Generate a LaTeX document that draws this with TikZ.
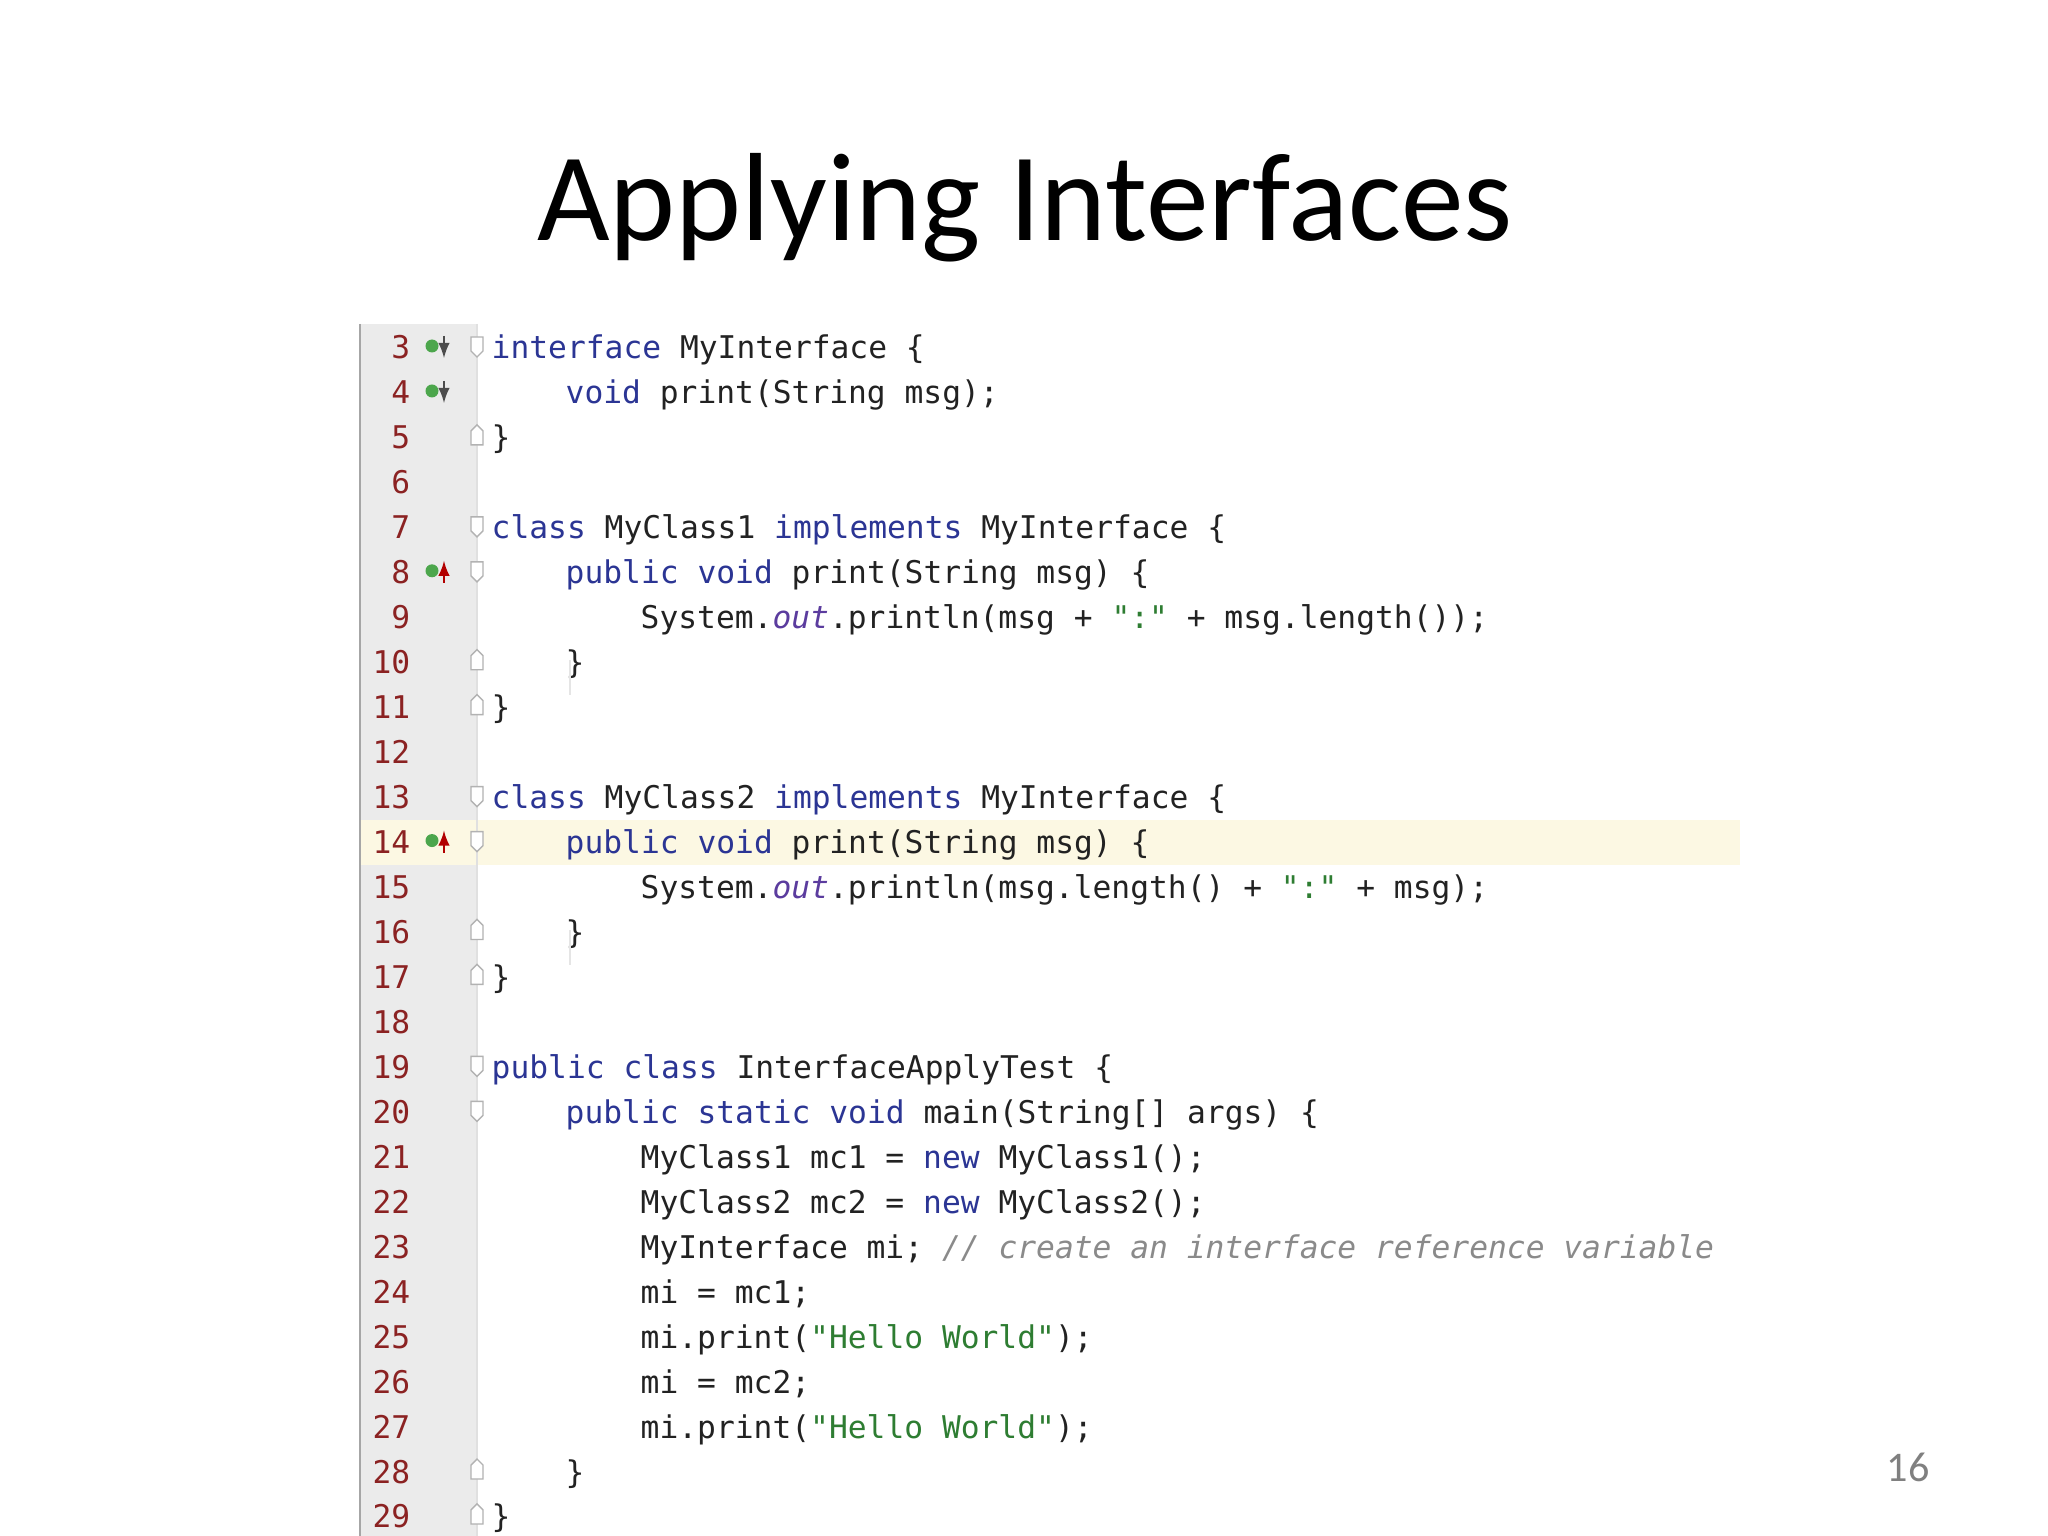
\documentclass[tikz,border=0pt]{standalone}
\usepackage{fontspec}
\setmainfont{Carlito}
\setmonofont{DejaVu Sans Mono}
\definecolor{kw}{HTML}{2B3594}
\definecolor{tx}{HTML}{222222}
\definecolor{fld}{HTML}{5B3C9E}
\definecolor{strc}{HTML}{2E7D32}
\definecolor{cmt}{HTML}{8A8A8A}
\definecolor{lnum}{HTML}{8B2222}
\definecolor{gut}{HTML}{EBEBEB}
\definecolor{hl}{HTML}{FCF8E3}
\newcommand\kw[1]{\textcolor{kw}{#1}}
\newcommand\fldc[1]{\textcolor{fld}{\itshape #1}}
\newcommand\strq[1]{\textcolor{strc}{#1}}
\newcommand\cmtc[1]{\textcolor{cmt}{\itshape #1}}
\tikzset{
 code/.style={anchor=base west,inner sep=0pt,font=\ttfamily\fontsize{8.9pt}{10pt}\selectfont,text=tx},
 lnumber/.style={anchor=base east,inner sep=0pt,font=\ttfamily\fontsize{8.9pt}{10pt}\selectfont,text=lnum},
 foldm/.style={draw=black!30,fill=white,line width=0.4pt},
}
\begin{document}
\begin{tikzpicture}
\useasboundingbox (0,0) rectangle (20.48,-15.36);
\fill[white] (0,0) rectangle (20.48,-15.36);
\node[font=\fontsize{35.7pt}{42pt}\selectfont,text=black] (title) at (10.25,-2.08) {Applying Interfaces};
% gutter and highlight
\fill[gut] (3.59,-3.24) rectangle (4.77,-15.36);
\fill[hl] (3.59,-8.20) rectangle (17.40,-8.65);
\draw[black!35,line width=0.8pt] (3.60,-3.24) -- (3.60,-15.36);
\draw[black!12,line width=0.4pt] (4.77,-3.24) -- (4.77,-15.36);
% line numbers
\foreach \n [count=\i from 0] in {3,...,29}{
  \node[lnumber] (ln\n) at (4.11,{-3.46-0.4496*\i-0.13}) {\n};
}
% code lines
\newcommand\cl[3]{\node[code] (c#1) at (#2,{-3.46-0.4496*(#1-3)-0.13}) {#3};}
\cl{3}{4.91}{\kw{interface} MyInterface \{}
\cl{4}{5.65}{\kw{void} print(String msg);}
\cl{5}{4.91}{\}}
\cl{7}{4.91}{\kw{class} MyClass1 \kw{implements} MyInterface \{}
\cl{8}{5.65}{\kw{public} \kw{void} print(String msg) \{}
\cl{9}{6.40}{System.\fldc{out}.println(msg + \strq{":"} + msg.length());}
\cl{10}{5.65}{\}}
\cl{11}{4.91}{\}}
\cl{13}{4.91}{\kw{class} MyClass2 \kw{implements} MyInterface \{}
\cl{14}{5.65}{\kw{public} \kw{void} print(String msg) \{}
\cl{15}{6.40}{System.\fldc{out}.println(msg.length() + \strq{":"} + msg);}
\cl{16}{5.65}{\}}
\cl{17}{4.91}{\}}
\cl{19}{4.91}{\kw{public} \kw{class} InterfaceApplyTest \{}
\cl{20}{5.65}{\kw{public} \kw{static} \kw{void} main(String[] args) \{}
\cl{21}{6.40}{MyClass1 mc1 = \kw{new} MyClass1();}
\cl{22}{6.40}{MyClass2 mc2 = \kw{new} MyClass2();}
\cl{23}{6.40}{MyInterface mi; \cmtc{// create an interface reference variable}}
\cl{24}{6.40}{mi = mc1;}
\cl{25}{6.40}{mi.print(\strq{"Hello World"});}
\cl{26}{6.40}{mi = mc2;}
\cl{27}{6.40}{mi.print(\strq{"Hello World"});}
\cl{28}{5.65}{\}}
\cl{29}{4.91}{\}}
% indent guide lines
\draw[black!10] (5.70,-6.60) -- (5.70,-6.95);
\draw[black!10] (5.70,-9.30) -- (5.70,-9.65);
% gutter icons
\foreach \n/\d in {3/0,4/1,8/5,14/11}{
  \fill[green!50!black!70] (4.32,{-3.46-0.4496*\d}) circle (0.065);
}
\foreach \d in {0,1}{
  \draw[black!70,-latex,line width=0.5pt] (4.44,{-3.46-0.4496*\d+0.10}) -- (4.44,{-3.46-0.4496*\d-0.12});
}
\foreach \d in {5,11}{
  \draw[red!70!black,-latex,line width=0.5pt] (4.44,{-3.46-0.4496*\d-0.12}) -- (4.44,{-3.46-0.4496*\d+0.10});
}
% fold markers
\foreach \d in {0,4,5,10,11,16,17}{
  \draw[foldm] (4.71,{-3.46-0.4496*\d+0.09}) -- (4.83,{-3.46-0.4496*\d+0.09}) -- (4.83,{-3.46-0.4496*\d-0.05}) -- (4.77,{-3.46-0.4496*\d-0.11}) -- (4.71,{-3.46-0.4496*\d-0.05}) -- cycle;
}
\foreach \d in {2,7,8,13,14,25,26}{
  \draw[foldm] (4.71,{-3.46-0.4496*\d-0.09}) -- (4.83,{-3.46-0.4496*\d-0.09}) -- (4.83,{-3.46-0.4496*\d+0.05}) -- (4.77,{-3.46-0.4496*\d+0.11}) -- (4.71,{-3.46-0.4496*\d+0.05}) -- cycle;
}
\node[text=black!50,font=\fontsize{12pt}{14pt}\selectfont] (pg) at (19.08,-14.67) {16};
\end{tikzpicture}
\end{document}
